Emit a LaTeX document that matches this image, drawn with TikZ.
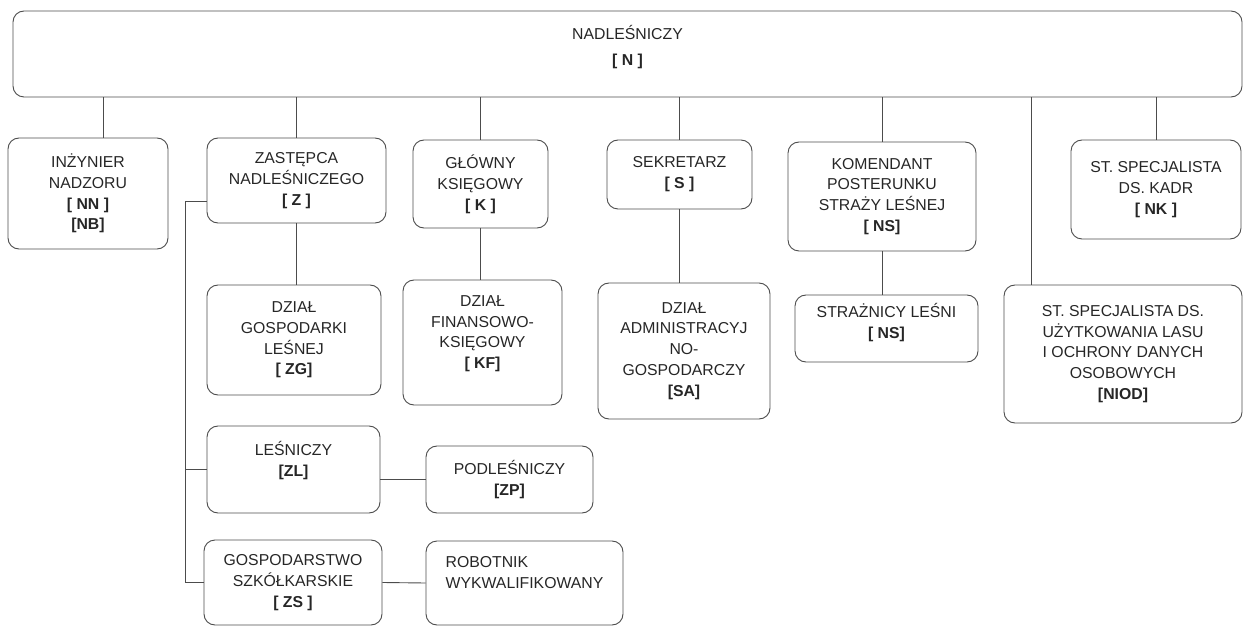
\documentclass[tikz,border=0pt]{standalone}
\usepackage{fontspec}
\setmainfont{Liberation Sans}
\usepackage{xcolor}
\usepackage{tikz}
\usetikzlibrary{positioning}

\begin{document}
\begin{tikzpicture}[x=1pt,y=-1pt,
box/.style={draw=black!70,line width=.9pt,rounded corners=11pt,align=center,inner sep=2pt,font=\fontsize{15.8}{20.8}\selectfont,text=black!85},ln/.style={draw=black!70,line width=.9pt}]
\useasboundingbox (0,0) rectangle (1245,628);
% top level
\node[box,minimum width=1229pt,minimum height=86pt] (n) at (627.5,54) {NADLEŚNICZY\\[5pt]\textbf{[ N ]}\\[-4pt]\mbox{}};
% second level
\node[box,minimum width=160pt,minimum height=111pt] (nn) at (88,193.5) {INŻYNIER\\NADZORU\\\textbf{[ NN ]}\\\textbf{[NB]}};
\node[box,minimum width=179pt,minimum height=85pt] (z) at (296.5,180.5) {ZASTĘPCA\\NADLEŚNICZEGO\\\textbf{[ Z ]}};
\node[box,minimum width=135pt,minimum height=88pt] (k) at (480.5,184) {GŁÓWNY\\KSIĘGOWY\\\textbf{[ K ]}};
\node[box,minimum width=145pt,minimum height=69pt] (s) at (679.5,174.5) {SEKRETARZ\\\textbf{[ S ]}};
\node[box,minimum width=188pt,minimum height=109pt] (ns) at (882,196.5) {KOMENDANT\\POSTERUNKU\\STRAŻY LEŚNEJ\\\textbf{[ NS]}};
\node[box,minimum width=170pt,minimum height=99pt] (nk) at (1156,189.5) {ST. SPECJALISTA\\DS. KADR\\\textbf{[ NK ]}};
% third level
\node[box,minimum width=174pt,minimum height=110pt] (zg) at (294,340) {DZIAŁ\\GOSPODARKI\\LEŚNEJ\\\textbf{[ ZG]}};
\node[box,minimum width=159pt,minimum height=125pt] (kf) at (482.5,342.5) {DZIAŁ\\FINANSOWO-\\KSIĘGOWY\\\textbf{[ KF]}\\\mbox{}};
\node[box,minimum width=172pt,minimum height=136pt] (sa) at (684,351) {DZIAŁ\\ADMINISTRACYJ\\NO-\\GOSPODARCZY\\\textbf{[SA]}};
\node[box,minimum width=183pt,minimum height=67pt] (snl) at (886.5,328.5) {STRAŻNICY LEŚNI\\\textbf{[ NS]}\\[-6pt]\mbox{}};
\node[box,minimum width=238pt,minimum height=138pt] (niod) at (1123,354) {ST. SPECJALISTA DS.\\UŻYTKOWANIA LASU\\I OCHRONY DANYCH\\OSOBOWYCH\\\textbf{[NIOD]}};
% under the deputy
\node[box,minimum width=173pt,minimum height=87pt] (zl) at (293.5,469.5) {LEŚNICZY\\\textbf{[ZL]}\\\mbox{}};
\node[box,minimum width=167pt,minimum height=67pt] (zp) at (509.5,479.5) {PODLEŚNICZY\\\textbf{[ZP]}};
\node[box,minimum width=178pt,minimum height=85pt] (zs) at (293,582.5) {GOSPODARSTWO\\SZKÓŁKARSKIE\\\textbf{[ ZS ]}};
\node[box,minimum width=197pt,minimum height=84pt,align=left] (rw) at (524.5,583) {ROBOTNIK\\WYKWALIFIKOWANY\\\mbox{}};
% connectors
\draw[ln] ([xshift=15pt]nn.north)--([xshift=15pt]nn.north |- n.south); \draw[ln] (z.north)--(z.north |- n.south); \draw[ln] (k.north)--(k.north |- n.south);
\draw[ln] (s.north)--(s.north |- n.south); \draw[ln] (ns.north)--(ns.north |- n.south); \draw[ln] (nk.north)--(nk.north |- n.south);
\draw[ln] ([xshift=28pt]niod.north west)--([xshift=28pt]niod.north west |- n.south);
\draw[ln] (z.south)--(z.south |- zg.north); \draw[ln] (k.south)--(k.south |- kf.north); \draw[ln] (s.south)--(s.south |- sa.north); \draw[ln] (ns.south)--(ns.south |- snl.north);
\draw[ln] ([yshift=-20.5pt]z.west)--++(-21,0) |- (zs.west); \draw[ln] (zl.west)--++(-21,0);
\draw[ln] (zp.west)--(zp.west -| zl.east); \draw[ln] (zs.east)--(rw.west);
\end{tikzpicture}
\end{document}
